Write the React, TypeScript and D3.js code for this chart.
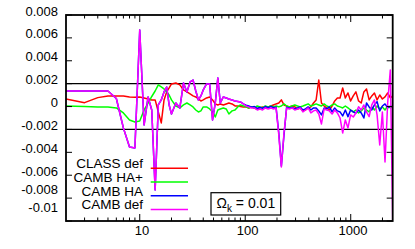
import React from "react";
import * as d3 from "d3";

const ells = [2,3,4,5,6,7,8,9,10,11,12,13,14,15,16,17,18,19,20,22,24,26,28,30,32,34,36,38,40,43,46,49,52,55,58,62,66,70,75,80,85,90,96,102,108,115,122,130,138,146,155,165,175,185,196,208,220,233,247,262,278,295,313,332,352,373,395,419,444,470,498,528,560,593,628,666,705,747,792,839,889,942,998,1057,1120,1187,1257,1332,1411,1495,1584,1678,1778,1884,1996,2114,2240,2373,2500];

const classDef = [0.00066,0.00034,0.00078,0.00093,0.00093,0.00093,0.00084,0.00081,0.00084,0.00075,0.00066,0.00058,0.00058,-0.00047,-0.00143,0.00058,0.00128,0.00163,0.00198,0.00206,0.00189,0.00145,0.00128,0.0011,0.00093,0.00084,0.00066,0.00049,0.00058,0.00075,0.00084,0.00058,0.00023,0.00014,0.00023,0.00014,0.00023,0.00031,0.00023,0.00005,0.00005,0.00001,-0.00003,-0.00003,-0.00012,-0.00003,-0.00012,-0.00021,-0.00012,-0.00003,-0.00012,-0.00003,0.00005,0.00014,0.00023,0.00031,0.00058,0.00014,0.00005,-0.00003,0.00005,-0.00003,-0.00021,-0.00012,-0.00038,-0.0003,-0.00012,-0.00003,0.00031,0.00058,0.00232,0.00031,0.00005,-0.00012,-0.0003,0.00005,0.00049,0.00075,0.00075,0.00163,0.00075,0.00119,0.00049,0.00093,0.00128,0.00049,0.00031,0.00128,0.00154,0.00058,0.00093,0.00119,0.00058,0.00101,0.00066,0.00084,0.00119,0.00075,0.00093];

const cambHAplus = [0.00005,0.00001,-0.00003,-0.00003,-0.00012,-0.00056,-0.00117,-0.00135,-0.00126,-0.0003,0.00031,0.00088,0.00136,0.00189,0.00171,0.00154,0.00128,0.00101,0.00058,0.00005,-0.00012,0.00014,0.00031,0.00014,-0.00003,-0.0003,-0.00047,-0.00038,-0.00003,-0.00003,-0.00021,-0.00047,-0.00091,-0.0003,-0.00021,-0.00012,-0.00021,-0.00065,-0.00038,-0.0003,-0.00003,0.00014,0.00005,-0.00003,-0.00012,-0.00003,-0.00012,0.00005,-0.00003,-0.00012,0.00005,-0.00003,0.00005,-0.00003,0.00005,-0.00003,0.00005,0.00023,0.00005,-0.00003,0.00005,0.00014,0.00005,-0.00003,0.00005,0.00014,0.00023,0.00005,0.00014,0.00023,0.00014,0.00005,0.00023,0.00005,-0.00003,0.00014,0.00023,0.00005,-0.00003,-0.00012,0.00005,-0.00012,-0.0003,-0.00047,-0.0003,-0.00056,-0.00038,-0.00012,-0.0003,-0.00047,-0.00003,-0.0003,0.00005,-0.00021,-0.00003,-0.0003,0.00005,-0.00012,-0.00003];

const cambHA = [0.00136,0.00136,0.00136,0.00136,0.0007,-0.00187,-0.00353,-0.00362,0.00669,-0.00161,0.00084,-0.0003,-0.00729,0.00014,0.00058,0.00128,0.00171,0.00014,-0.00065,0.00031,-0.00012,0.00206,0.00128,0.00215,0.00232,0.00136,0.00058,0.00093,0.00145,0.00198,0.00198,-0.00117,0.00031,0.0025,0.00031,0.00084,0.00075,0.00066,0.00058,0.00049,0.00045,0.0004,0.00023,0.00012,0.00005,-0.00005,0.0,-0.00015,-0.00008,-0.00015,0.0,-0.0001,0.0,-0.0001,-0.00005,-0.0023,-0.0052,-0.0025,-0.00005,-0.00015,-0.00008,-0.00021,-0.00012,-0.00003,-0.0003,-0.00021,-0.00003,-0.0003,-0.00012,-0.00012,-0.00038,-0.00073,-0.00012,-0.00021,-0.00003,-0.00047,-0.00012,-0.00038,-0.00047,-0.00082,-0.0003,-0.00088,-0.0003,-0.00047,-0.00056,-0.0003,-0.00056,-0.001,0.00031,-0.00003,-0.0003,0.00014,0.00043,-0.00038,0.00005,0.00023,-0.00012,0.00005,-0.00003];

const cambDef = [0.00136,0.00136,0.00136,0.00136,0.0007,-0.00187,-0.00353,-0.00362,0.00669,-0.00161,0.00084,-0.0003,-0.00729,0.00014,0.00058,0.00128,0.00171,0.00014,-0.00065,0.00031,-0.00012,0.00206,0.00128,0.00215,0.00232,0.00136,0.00058,0.00093,0.00145,0.00198,0.00198,-0.00117,0.00031,0.0025,0.00031,0.00084,0.00075,0.00066,0.00058,0.00049,0.00045,0.0004,0.00023,0.00005,-0.00003,-0.00012,-0.00012,-0.0003,-0.00021,-0.0003,-0.00012,-0.00021,-0.00012,-0.00021,-0.00012,-0.00248,-0.00528,-0.00231,-0.00012,-0.00021,-0.00012,-0.0003,-0.00021,-0.00012,-0.00047,-0.0003,-0.00012,-0.00056,-0.00038,-0.0003,-0.00065,-0.00152,-0.00021,-0.0003,-0.00038,-0.00065,-0.0003,-0.00056,-0.001,-0.00231,-0.00117,-0.00187,-0.00073,-0.00091,-0.00056,-0.00001,-0.0003,0.00014,-0.00047,-0.00088,0.00014,0.00058,-0.00073,-0.00336,-0.00047,-0.00484,0.00031,0.0032,-0.01];

const seriesNames = ["CLASS def", "CAMB HA+", "CAMB HA", "CAMB def"];
const seriesColors = ["#ff0000", "#00ff00", "#0000ff", "#ff00ff"];
const yTicks = [0.008, 0.006, 0.004, 0.002, 0, -0.002, -0.004, -0.006, -0.008, -0.01];
const yTickLabels = ["0.008", "0.006", "0.004", "0.002", "0", "-0.002", "-0.004", "-0.006", "-0.008", "-0.01"];
const xMajor = [10, 100, 1000];
const xMajorLabels = ["10", "100", "1000"];
const refLines = [0.002, -0.002];
const omegaValue = "0.01";

export default function App() {
  const W = 415, H = 249;
  const left = 66, right = 392.7, top = 15, bottom = 221;
  const x = d3.scaleLog().domain([2, 2500]).range([left, right]);
  const y = d3.scaleLinear().domain([-0.01, 0.008]).range([bottom, top]);
  const series = [classDef, cambHAplus, cambHA, cambDef];
  const line = d3.line<number>().x((_, i) => x(ells[i])).y((d) => y(d));

  const minor: number[] = [];
  for (let e = 0; e <= 3; e++) {
    for (let m = 2; m <= 9; m++) {
      const v = m * Math.pow(10, e);
      if (v > 2 && v < 2500) minor.push(v);
    }
  }
  // label nudge near the bottom of the axis (labels there sit higher in the reference)
  const labelShift = (v: number) => (v <= -0.01 ? -9 : v <= -0.008 ? -4 : 0.5);
  const font = "'Liberation Sans', Arial, Helvetica, sans-serif";
  const legX1 = 150.7, legX2 = 188, legY0 = 168.3, legDy = 13.7, legTextX = 143;

  return (
    <svg width={W} height={H} style={{ position: "absolute", left: 0, top: 0, background: "#fff" }} fontFamily={font}>
      <defs>
        <clipPath id="plotclip">
          <rect x={left} y={top} width={right - left} height={bottom - top} />
        </clipPath>
      </defs>
      <rect x={0} y={0} width={W} height={H} fill="#fff" />
      {refLines.map((v) => (
        <line key={v} x1={left} x2={right} y1={y(v)} y2={y(v)} stroke="#000" strokeWidth={1.3} />
      ))}
      <g clipPath="url(#plotclip)">
        {series.map((s, i) => (
          <path key={i} d={line(s) || ""} fill="none" stroke={seriesColors[i]} strokeWidth={1.5} strokeLinejoin="round" />
        ))}
      </g>
      {yTicks.map((v) => (
        <g key={v}>
          <line x1={left} x2={left + 6} y1={y(v)} y2={y(v)} stroke="#000" strokeWidth={1} />
          <line x1={right - 6} x2={right} y1={y(v)} y2={y(v)} stroke="#000" strokeWidth={1} />
        </g>
      ))}
      {minor.map((v) => (
        <g key={v}>
          <line x1={x(v)} x2={x(v)} y1={bottom} y2={bottom - 3.5} stroke="#000" strokeWidth={1} />
          <line x1={x(v)} x2={x(v)} y1={top} y2={top + 3.5} stroke="#000" strokeWidth={1} />
        </g>
      ))}
      {xMajor.map((v) => (
        <g key={v}>
          <line x1={x(v)} x2={x(v)} y1={bottom} y2={bottom - 7} stroke="#000" strokeWidth={1} />
          <line x1={x(v)} x2={x(v)} y1={top} y2={top + 7} stroke="#000" strokeWidth={1} />
        </g>
      ))}
      <rect x={left} y={top} width={right - left} height={bottom - top} fill="none" stroke="#000" strokeWidth={1.8} />
      {yTicks.map((v, i) => (
        <text key={v} x={58} y={y(v) + labelShift(v)} textAnchor="end" fontSize={13} fill="#000">
          {yTickLabels[i]}
        </text>
      ))}
      {xMajor.map((v, i) => (
        <text key={v} x={x(v) + 2.3} y={234.5} textAnchor="middle" fontSize={13} fill="#000">
          {xMajorLabels[i]}
        </text>
      ))}
      {seriesNames.map((n, i) => (
        <g key={n}>
          <text x={legTextX} y={legY0 + i * legDy} textAnchor="end" fontSize={13.5} fill="#000">
            {n}
          </text>
          <line x1={legX1} x2={legX2} y1={legY0 + i * legDy} y2={legY0 + i * legDy} stroke={seriesColors[i]} strokeWidth={1.5} />
        </g>
      ))}
      <rect x={211} y={192.7} width={69.7} height={22.3} fill="#fff" stroke="#000" strokeWidth={1.2} />
      <text x={216.5} y={208} fontSize={14} fill="#000">
        Ω<tspan dy={4} fontSize={10}>k</tspan>
        <tspan dy={-4}> = {omegaValue}</tspan>
      </text>
    </svg>
  );
}
